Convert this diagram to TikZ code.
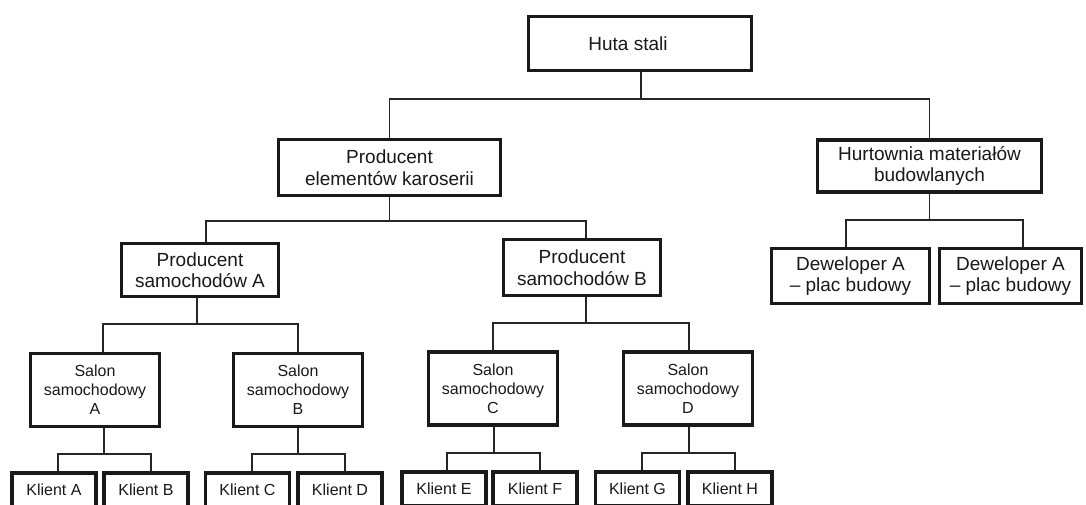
\documentclass[tikz,border=0pt]{standalone}
\usepackage{fontspec}
\setmainfont{Liberation Sans}
\begin{document}
\begin{tikzpicture}[x=1pt,y=-1pt,
  box/.style={draw=black!90, line width=3.6pt, fill=white, inner sep=0pt,
              align=center, text=black!90},
  bigtxt/.style={font=\fontsize{19}{21.5}\selectfont},
  smalltxt/.style={font=\fontsize{16}{19}\selectfont},
  link/.style={draw=black!85, line width=1.3pt},
  kbox/.style={box, smalltxt, minimum width=84pt, minimum height=34pt},
  sbox/.style={box, smalltxt, minimum width=129pt, minimum height=73pt},
  pbox/.style={box, bigtxt, minimum width=157pt, minimum height=54pt}]
\useasboundingbox (0,0) rectangle (1086,504);
\clip (0,0) rectangle (1086,504);
\fill[white] (0,0) rectangle (1086,504);

% top level
\node[box, bigtxt, minimum width=223pt, minimum height=54pt] (huta) at (640,43.5) {Huta stali\hspace{24pt}};

% second level
\node[box, bigtxt, minimum width=222pt, minimum height=56pt] (prod) at (389.5,167.5) {Producent\\elementów karoserii};
\node[box, bigtxt, minimum width=224pt, minimum height=52pt] (hurt) at (929.5,166) {Hurtownia materiałów\\budowlanych};

% construction branch
\node[box, bigtxt, minimum width=158pt, minimum height=55pt] (devA) at (850.5,276) {Deweloper A\\– plac budowy};
\node[box, bigtxt, minimum width=142pt, minimum height=55pt] (devB) at (1010.5,276) {Deweloper A\\– plac budowy};

% car producers
\node[pbox, minimum height=53pt] (psA) at (200,270) {Producent\\samochodów A};
\node[pbox, minimum height=56pt] (psB) at (582,267.5) {Producent\\samochodów B};

% car dealers
\node[sbox] (salA) at (95,390) {Salon\\samochodowy\\A};
\node[sbox] (salB) at (298,390) {Salon\\samochodowy\\B};
\node[sbox] (salC) at (493,388.5) {Salon\\samochodowy\\C};
\node[sbox] (salD) at (688,388.5) {Salon\\samochodowy\\D};

% clients
\node[kbox] (kA) at (54,490) {Klient A};
\node[kbox] (kB) at (146,490) {Klient B};
\node[kbox] (kC) at (247.5,490) {Klient C};
\node[kbox] (kD) at (340,490) {Klient D};
\node[kbox] (kE) at (444,489) {Klient E};
\node[kbox] (kF) at (535,489) {Klient F};
\node[kbox] (kG) at (637.5,489) {Klient G};
\node[kbox] (kH) at (730,489) {Klient H};

% bus levels
\coordinate (y1) at (0,99);
\coordinate (y2) at (0,221);
\coordinate (y3) at (0,220);
\coordinate (y4) at (0,324);
\coordinate (y5) at (0,323);
\coordinate (y6) at (0,454);
\coordinate (y7) at (0,453);

% connectors
\draw[link] ([xshift=1pt]huta.south) -- ([xshift=1pt]huta.south |- y1);
\draw[link] (prod.north) |- ([xshift=1pt]huta.south |- y1) -| (hurt.north);

\draw[link] (prod.south) -- (prod.south |- y2);
\draw[link] ([xshift=6pt]psA.north) |- (prod.south |- y2) -| ([xshift=4pt]psB.north);

\draw[link] (hurt.south) -- (hurt.south |- y3);
\draw[link] ([xshift=-4.5pt]devA.north) |- (hurt.south |- y3) -| ([xshift=12.5pt]devB.north);

\draw[link] ([xshift=-3pt]psA.south) -- ([xshift=-3pt]psA.south |- y4);
\draw[link] ([xshift=8pt]salA.north) |- ([xshift=-3pt]psA.south |- y4) -| (salB.north);

\draw[link] ([xshift=4pt]psB.south) -- ([xshift=4pt]psB.south |- y5);
\draw[link] (salC.north) |- ([xshift=4pt]psB.south |- y5) -| ([xshift=1pt]salD.north);

\draw[link] ([xshift=9pt]salA.south) -- ([xshift=9pt]salA.south |- y6);
\draw[link] ([xshift=4pt]kA.north) |- ([xshift=9pt]salA.south |- y6) -| ([xshift=5pt]kB.north);

\draw[link] (salB.south) -- (salB.south |- y6);
\draw[link] ([xshift=4.5pt]kC.north) |- (salB.south |- y6) -| ([xshift=5pt]kD.north);

\draw[link] ([xshift=1pt]salC.south) -- ([xshift=1pt]salC.south |- y7);
\draw[link] ([xshift=3pt]kE.north) |- ([xshift=1pt]salC.south |- y7) -| ([xshift=5pt]kF.north);

\draw[link] ([xshift=1pt]salD.south) -- ([xshift=1pt]salD.south |- y7);
\draw[link] ([xshift=4.5pt]kG.north) |- ([xshift=1pt]salD.south |- y7) -| ([xshift=5pt]kH.north);
\end{tikzpicture}
\end{document}
